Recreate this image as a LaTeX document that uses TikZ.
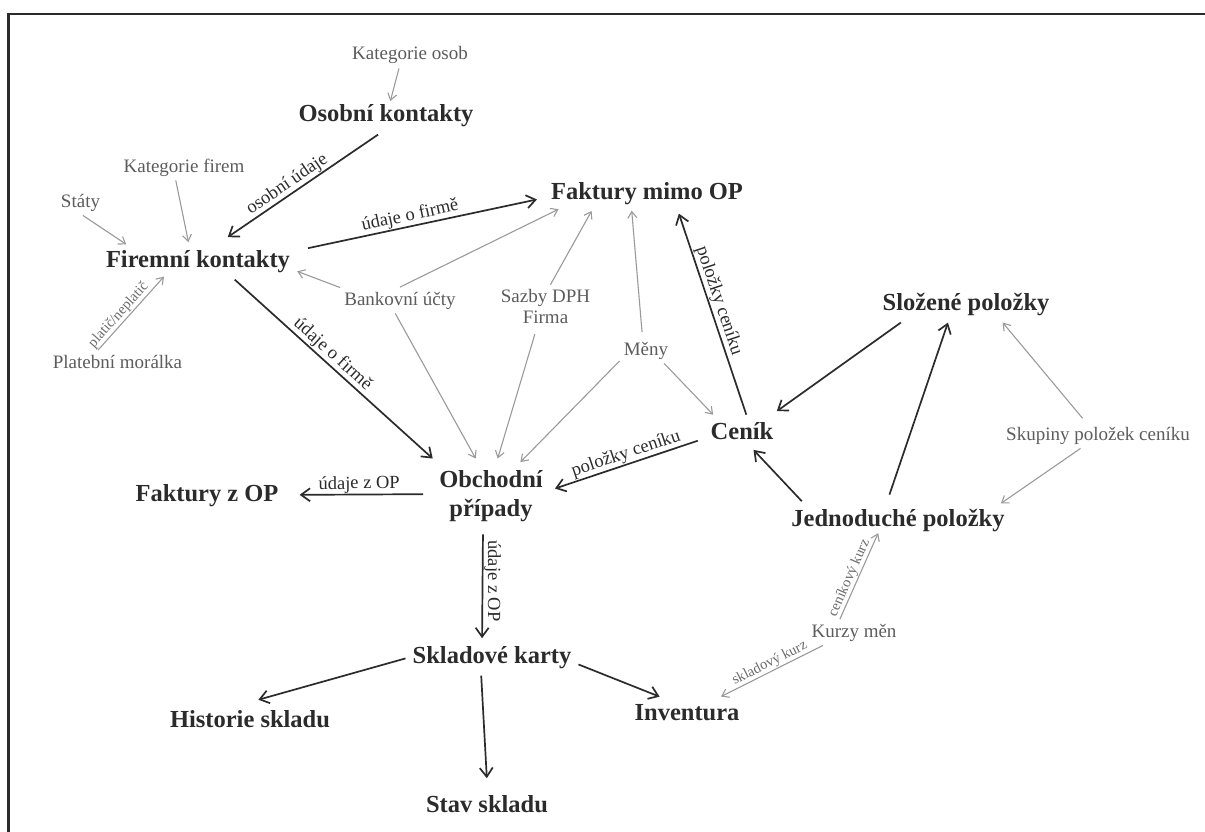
\documentclass[tikz,border=0pt]{standalone}
\usepackage{fontspec}
\setmainfont{Liberation Serif}
\usetikzlibrary{arrows.meta}
\definecolor{inkdark}{HTML}{2B2B2B}
\definecolor{inkgray}{HTML}{5C5C5C}
\definecolor{linegray}{HTML}{9A9A9A}
\definecolor{labelgray}{HTML}{6A6A6A}
\begin{document}
\begin{tikzpicture}[x=1pt,y=-1pt,
  mainbox/.style={font=\fontsize{24.5}{29}\selectfont\bfseries, text=inkdark, inner sep=7pt},
  mainline/.style={mainbox, text height=17.6pt, text depth=5.4pt, anchor=base},
  auxbox/.style={font=\fontsize{19}{21}\selectfont, text=inkgray, inner sep=4pt},
  auxline/.style={auxbox, text height=13.7pt, text depth=4.2pt, anchor=base},
  darr/.style={draw=inkdark, line width=1.7pt, -{Straight Barb[length=9pt,width=13pt]}},
  garr/.style={draw=linegray, line width=1.1pt, -{Straight Barb[length=6.5pt,width=9pt]}},
  lbl/.style={font=\fontsize{18.5}{20}\selectfont, text=inkdark, above, inner sep=0.8pt},
  slbl/.style={font=\fontsize{14.5}{16}\selectfont, text=labelgray, sloped, above, inner sep=0.8pt},
  frame/.style={draw=inkdark, line width=2.2pt}
]
\useasboundingbox (0,0) rectangle (1205,832);
\draw[frame] (8.5,832) -- (8.5,13.8) -- (1205,13.8);

% contacts
\node[auxline]  (kos) at (410,60)   {Kategorie osob};
\node[mainline] (ok)  at (386,122)  {Osobní kontakty};
\node[auxline]  (kf)  at (184,172)  {Kategorie firem};
\node[auxline]  (st)  at (80.5,207) {Státy};
\node[mainline] (fk)  at (198,267)  {Firemní kontakty};
\node[auxline]  (pm)  at (117.5,368) {Platební morálka};

% invoices and code lists
\node[mainline, inner sep=9pt] (fmo) at (647,199) {Faktury mimo OP};
\node[auxline]  (bu)   at (400,305)  {Bankovní účty};
\node[auxbox, align=center] (sdph) at (545.5,306.1) {Sazby DPH\\Firma};
\node[auxline]  (me)   at (646,355)  {Měny};

% price list
\node[mainline] (sp)  at (966,310)   {Složené položky};
\node[mainline] (cen) at (742,439.5) {Ceník};
\node[auxline]  (spc) at (1098,440)  {Skupiny položek ceníku};
\node[mainline] (jp)  at (898,526)   {Jednoduché položky};
\node[auxline]  (km)  at (854,637)   {Kurzy měn};

% business cases and stock
\node[mainbox, align=center, inner sep=12pt] (op) at (491,496.4) {Obchodní\\případy};
\node[mainline] (fzop) at (207,501) {Faktury z OP};
\node[mainline] (sk)   at (492,663) {Skladové karty};
\node[mainline] (hs)   at (250,727) {Historie skladu};
\node[mainline] (inv)  at (687,720) {Inventura};
\node[mainline] (ss)   at (487,812) {Stav skladu};

% code-list links
\draw[garr, shorten >=-4pt] (kos.230) -- (ok.74);
\draw[garr] (kf.238) -- (fk.117);
\draw[garr, shorten >=-4pt] (st.280) -- (fk.166);
\draw[garr, shorten >=-4pt] (pm.146) -- node[slbl, pos=.42]{platič/neplatič} (fk.207);
\draw[garr] (bu.168) -- (fk.354);
\draw[garr, shorten >=-10pt] (bu.90) -- (fmo.192);
\draw[garr] (bu.250) -- (op.112);
\draw[garr, shorten >=-3pt] (sdph.77) -- (fmo.200);
\draw[garr, shorten <=7pt] (sdph.248) -- (op.80);
\draw[garr, shorten <=5pt, shorten >=-3pt] (me.105) -- (fmo.234);
\draw[garr] (me.324) -- (cen.147);
\draw[garr, shorten >=-5pt] (me.202) -- (op.49);
\draw[garr, shorten <=5pt] (spc.133) -- (sp.333);
\draw[garr, shorten >=-4pt] (spc.217) -- (jp.10);
\draw[garr, shorten >=-6pt] (km.137) -- node[slbl, pos=.47]{ceníkový kurz} (jp.220);
\draw[garr, shorten >=-3pt] (km.203) -- node[slbl, pos=.5]{skladový kurz} (inv.27);

% main data flows
\draw[darr, shorten >=9pt] (ok.247) -- node[lbl, sloped, pos=.54]{osobní údaje} (fk.40);
\draw[darr, shorten <=11pt, shorten >=5pt] (fk.6) -- node[lbl, sloped, pos=.47]{údaje o firmě} (fmo.183);
\draw[darr] (fk.333) -- node[lbl, sloped, pos=.46]{údaje o firmě} (op.147);
\draw[darr] (cen.77) -- node[lbl, sloped, pos=.55]{položky ceníku} (fmo.327);
\draw[darr, shorten >=6pt] (sp.196) -- (cen.32);
\draw[darr, shorten <=6pt] (cen.188) -- node[lbl, sloped]{položky ceníku} (op.7);
\draw[darr, shorten >=-3pt] (jp.169) -- (cen.306);
\draw[darr, shorten <=7pt] (jp.120) -- (sp.226);
\draw[darr, shorten <=4pt, shorten >=14pt] (op.178) -- node[lbl, sloped, pos=.48]{údaje z OP} (fzop.0);
\draw[darr] (op.258) -- node[lbl, rotate=-90, pos=.45]{údaje z OP} (sk.118);
\draw[darr, shorten >=9pt] (sk.181) -- (hs.91);
\draw[darr, shorten >=9pt] (sk.240) -- (ss.89);
\draw[darr, shorten >=-4pt] (sk.355) -- (inv.149);
\end{tikzpicture}
\end{document}
